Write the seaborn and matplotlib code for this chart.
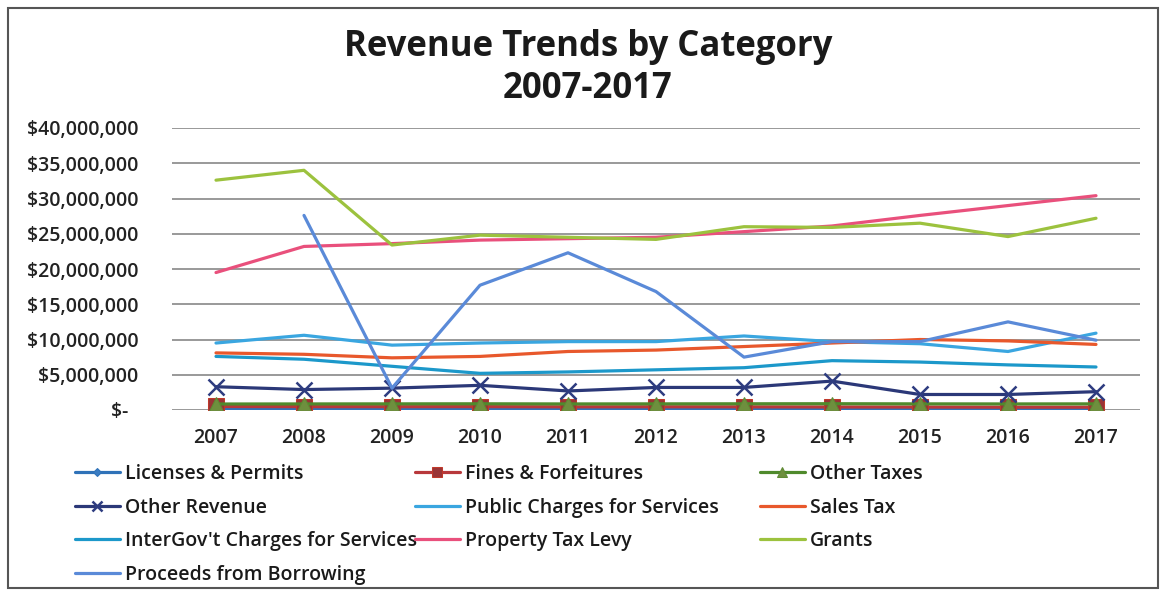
import numpy as np
import pandas as pd
import matplotlib
matplotlib.use("Agg")
import matplotlib.pyplot as plt
from matplotlib.ticker import FuncFormatter, MultipleLocator
from matplotlib.patches import Rectangle
import seaborn as sns

# ---- data (dollars) ----
years = ["2007", "2008", "2009", "2010", "2011", "2012", "2013", "2014", "2015", "2016", "2017"]

licenses_permits = [200_000, 210_000, 190_000, 200_000, 200_000, 210_000, 200_000, 210_000, 190_000, 200_000, 200_000]
fines_forfeitures = [500_000, 480_000, 470_000, 480_000, 450_000, 460_000, 450_000, 430_000, 420_000, 400_000, 400_000]
other_taxes = [850_000, 860_000, 870_000, 880_000, 860_000, 870_000, 880_000, 890_000, 870_000, 860_000, 870_000]
other_revenue = [3_300_000, 2_900_000, 3_100_000, 3_500_000, 2_700_000, 3_200_000, 3_200_000, 4_100_000, 2_200_000, 2_200_000, 2_600_000]
public_charges = [9_500_000, 10_600_000, 9_200_000, 9_500_000, 9_700_000, 9_700_000, 10_500_000, 9_700_000, 9_400_000, 8_300_000, 10_900_000]
sales_tax = [8_100_000, 7_900_000, 7_400_000, 7_600_000, 8_300_000, 8_500_000, 9_000_000, 9_500_000, 10_000_000, 9_800_000, 9_300_000]
intergov_charges = [7_600_000, 7_200_000, 6_200_000, 5_200_000, 5_400_000, 5_700_000, 6_000_000, 7_000_000, 6_800_000, 6_400_000, 6_100_000]
property_tax_levy = [19_500_000, 23_200_000, 23_600_000, 24_100_000, 24_300_000, 24_500_000, 25_300_000, 26_100_000, 27_600_000, 29_000_000, 30_400_000]
grants = [32_600_000, 34_000_000, 23_400_000, 24_800_000, 24_500_000, 24_200_000, 26_000_000, 25_900_000, 26_500_000, 24_600_000, 27_200_000]
proceeds_borrowing = [np.nan, 27_600_000, 3_100_000, 17_700_000, 22_300_000, 16_800_000, 7_500_000, 9_700_000, 9_700_000, 12_500_000, 9_900_000]

series_names = [
    "Licenses & Permits", "Fines & Forfeitures", "Other Taxes",
    "Other Revenue", "Public Charges for Services", "Sales Tax",
    "InterGov't Charges for Services", "Property Tax Levy", "Grants",
    "Proceeds from Borrowing",
]
series_values = [
    licenses_permits, fines_forfeitures, other_taxes,
    other_revenue, public_charges, sales_tax,
    intergov_charges, property_tax_levy, grants,
    proceeds_borrowing,
]

# ---- styles ----
styles = {
    "Licenses & Permits": dict(color="#2F72B8", marker="D", markersize=6, mec="#2F72B8", mfc="#3A7CC2"),
    "Fines & Forfeitures": dict(color="#B8383B", marker="s", markersize=11, mec="#C0392B", mfc="#9A3436"),
    "Other Taxes": dict(color="#4F8A2C", marker="^", markersize=10, mec="#5E8A34", mfc="#6E8F3E"),
    "Other Revenue": dict(color="#2B3878", marker="x", markersize=11, mec="#2E3C80", mew=1.8),
    "Public Charges for Services": dict(color="#3AA6E0", marker=None),
    "Sales Tax": dict(color="#E8582C", marker=None),
    "InterGov't Charges for Services": dict(color="#1C98CA", marker=None),
    "Property Tax Levy": dict(color="#E9507C", marker=None),
    "Grants": dict(color="#9CC23E", marker=None),
    "Proceeds from Borrowing": dict(color="#5A8AD8", marker=None),
}

W, H = 1165, 593
fig = plt.figure(figsize=(W / 100, H / 100), dpi=100)
sns.set_style("white")
plt.rcParams["font.family"] = ["Open Sans", "DejaVu Sans"]

def px_x(x):
    return x / W

def px_y(y):
    return 1 - y / H

ax = fig.add_axes([px_x(172), px_y(410), px_x(1140) - px_x(172), px_y(128) - px_y(410)])

for name, vals in zip(series_names, series_values):
    st = dict(styles[name])
    color = st.pop("color")
    marker = st.pop("marker")
    df = pd.DataFrame({"year": years, "value": vals}).dropna()
    kw = dict(color=color, linewidth=2.3, ax=ax, label=name, sort=False)
    if marker is not None:
        kw.update(marker=marker, **st)
    sns.lineplot(data=df, x="year", y="value", **kw)

ax.set_xlim(-0.5, len(years) - 0.5)
ax.set_ylim(0, 40_000_000)
ax.yaxis.set_major_locator(MultipleLocator(5_000_000))

def money(v, pos):
    if abs(v) < 1:
        return "$-    "
    return f"${v:,.0f}  "

ax.yaxis.set_major_formatter(FuncFormatter(money))
ax.grid(axis="y", color="#888888", linewidth=1.2)
ax.grid(axis="x", visible=False)
for s in ax.spines.values():
    s.set_visible(False)
ax.tick_params(axis="both", length=0, labelsize=14, labelcolor="#222222")
ax.tick_params(axis="x", pad=13)
ax.tick_params(axis="y", pad=17)
for lab in ax.get_xticklabels() + ax.get_yticklabels():
    lab.set_fontweight("semibold")
ax.set_xlabel("")
ax.set_ylabel("")

# legend split into three columns at fixed positions
hl, lb = ax.get_legend_handles_labels()
lookup = dict(zip(lb, hl))
if ax.get_legend() is not None:
    ax.get_legend().remove()
columns = [
    (["Licenses & Permits", "Other Revenue", "InterGov't Charges for Services", "Proceeds from Borrowing"], 75),
    (["Fines & Forfeitures", "Public Charges for Services", "Property Tax Levy"], 415),
    (["Other Taxes", "Sales Tax", "Grants"], 760),
]
for names, xpix in columns:
    leg = fig.legend([lookup[n] for n in names], names, loc="upper left",
                     bbox_to_anchor=(px_x(xpix), px_y(464)), frameon=False,
                     handlelength=2.3, handletextpad=0.25, markerscale=0.7,
                     labelspacing=0.7, borderpad=0, borderaxespad=0,
                     prop=dict(weight="semibold", size=14))
    for t in leg.get_texts():
        t.set_color("#1A1A1A")

fig.text(px_x(588), px_y(68), "Revenue Trends by Category\n2007-2017", ha="center", va="center",
         fontsize=25, fontweight="bold", color="#1A1A1A", linespacing=1.2)

# outer chart border
fig.patches.append(Rectangle((px_x(8), px_y(588)), px_x(1158) - px_x(8), px_y(8) - px_y(588),
                             transform=fig.transFigure, fill=False, edgecolor="#555555", linewidth=1.5))

fig.savefig("out.png", dpi=100, facecolor="white")
